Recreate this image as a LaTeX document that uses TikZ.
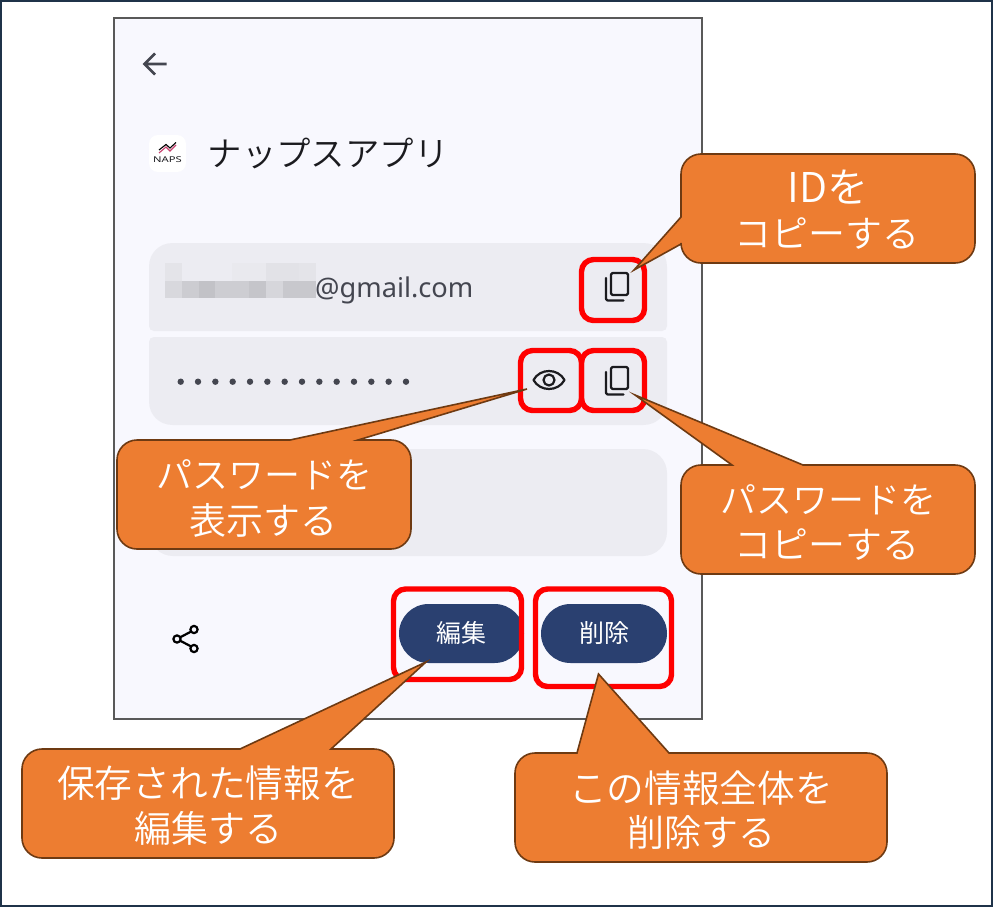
\documentclass[tikz,border=0pt]{standalone}
\usepackage{fontspec}
\newfontfamily\jp{Noto Sans CJK JP}
\newfontfamily\jpl{Noto Sans CJK JP DemiLight}
\newfontfamily\ui{Noto Sans}
\definecolor{panelbg}{HTML}{F8F8FE}
\definecolor{fieldbg}{HTML}{ECECF2}
\definecolor{panelline}{HTML}{595959}
\definecolor{frameline}{HTML}{1F3349}
\definecolor{callfill}{HTML}{ED7D31}
\definecolor{callline}{HTML}{6E3A12}
\definecolor{pillfill}{HTML}{2A4070}
\definecolor{uigrey}{HTML}{444650}
\definecolor{icondark}{HTML}{1B1B1F}
\definecolor{logopink}{HTML}{C8406E}
\tikzset{
  x=1pt,y=-1pt,
  callshape/.style={fill=callfill,draw=callline,line width=1.6pt,line join=miter},
  calltext/.style={text=white,font=\jpl\fontsize{37}{37}\selectfont,inner sep=0pt,anchor=center},
  calltextkana/.style={calltext,font=\jpl\fontsize{36}{36}\selectfont},
  calltextwide/.style={calltext,font=\jpl\fontsize{37.7}{37.7}\selectfont},
  calltextid/.style={calltext,font=\jpl\fontsize{41}{41}\selectfont},
  redbox/.style={draw=red,line width=5.4pt,rounded corners=12pt},
  pill/.style={fill=pillfill,rounded corners=29.5pt},
  pilltext/.style={text=white,font=\jp\fontsize{25}{25}\selectfont,inner sep=0pt},
  icon/.style={draw=icondark,line width=2.2pt,line cap=round,line join=round},
}
\newcommand{\topcall}[8]{%
  \draw[callshape] (#5,#2) -- (#7,#8) -- (#6,#2) -- ({#3-20},#2) .. controls ({#3-9},#2) and (#3,{#2+9}) .. (#3,{#2+20})
    -- (#3,{#4-20}) .. controls (#3,{#4-9}) and ({#3-9},#4) .. ({#3-20},#4)
    -- ({#1+20},#4) .. controls ({#1+9},#4) and (#1,{#4-9}) .. (#1,{#4-20})
    -- (#1,{#2+20}) .. controls (#1,{#2+9}) and ({#1+9},#2) .. ({#1+20},#2) -- cycle;}
\newcommand{\copyicon}[1]{%
  \begin{scope}[yshift=#1]
  \draw[icon,rounded corners=1.5pt] (611,273) rectangle (628,295);
  \draw[icon,rounded corners=1.5pt] (606,278) -- (606,300.5) -- (623.5,300.5);
  \end{scope}}
\begin{document}
\begin{tikzpicture}
\useasboundingbox (0,0) rectangle (993,907);
\fill[white] (0,0) rectangle (993,907);
\draw[frameline,line width=2pt] (1,1) rectangle (992,906);
% phone panel
\draw[fill=panelbg,draw=panelline,line width=1.6pt] (114,18) rectangle (702,719);
% fields
\fill[fieldbg] (149,326) -- (149,267) .. controls (149,253) and (159,243) .. (173,243) -- (643,243) .. controls (657,243) and (667,253) .. (667,267)
  -- (667,326) .. controls (667,329) and (665,331) .. (662,331) -- (154,331) .. controls (151,331) and (149,329) .. (149,326) -- cycle;
\fill[fieldbg] (149,342) .. controls (149,339) and (151,337) .. (154,337) -- (662,337) .. controls (665,337) and (667,339) .. (667,342)
  -- (667,401) .. controls (667,415) and (657,425) .. (643,425) -- (173,425) .. controls (159,425) and (149,415) .. (149,401) -- cycle;
\fill[fieldbg,rounded corners=24pt] (149,449) rectangle (667,556);
% back arrow
\draw[uigrey,line width=2.6pt,line join=miter] (166.5,64) -- (145,64) (155,53.5) -- (144.5,64) -- (155,74.5);
% app icon
\fill[white,rounded corners=9pt] (149,135) rectangle (186,172);
\draw[logopink,line width=1.1pt] (159,153) -- (166,147) -- (170,151) -- (176,145);
\draw[black,line width=1.1pt] (159,150) -- (166,144.5) -- (170,148) -- (176,142.5);
\node[name=naps,inner sep=0pt,xscale=1.4,font=\ui\fontsize{8}{8}\selectfont,text=icondark] at (167.5,160) {NAPS};
\node[name=title,inner sep=0pt,anchor=center,text=icondark,font=\jpl\fontsize{34.4}{34.4}\selectfont] at (328,153) {ナップスアプリ};
% blurred address
\foreach \i/\c in {0/E4E4E9,4/E9E9EE,5/E9E9EE,6/E2E2E7,7/E2E2E7,8/E4E4E9}{
  \definecolor{cc}{HTML}{\c}\fill[cc] ({165+\i*16.8},263) rectangle ({165+(\i+1)*16.8},281);}
\foreach \i/\c in {0/D8D8DD,1/CCCCD1,2/C2C2C7,3/CDCDD2,4/CDCDD2,5/C5C5CA,6/D6D6DB,7/C8C8CD,8/C8C8CD}{
  \definecolor{cc}{HTML}{\c}\fill[cc] ({165+\i*16.8},281) rectangle ({165+(\i+1)*16.8},298);}
\node[name=mail,inner sep=0pt,anchor=west,text=uigrey,font=\ui\fontsize{27.2}{27.2}\selectfont] at (315,290) {@gmail.com};
% password dots
\foreach \i in {0,...,13}{\fill[uigrey] ({180.7+\i*17.33},381.7) circle (3.2);}
% icons
\copyicon{0pt}
\copyicon{-94pt}
\draw[icon,line width=2.2pt] (533.5,380) .. controls (540,368) and (558,368) .. (564.5,380) .. controls (558,392) and (540,392) .. (533.5,380) -- cycle;
\draw[icon,line width=2.2pt] (549,380) circle (5.5);
% share icon
\draw[black,line width=2.2pt] (194,630) -- (177,639) -- (194,648);
\foreach \p in {(194,629.5),(177,639),(194,648.5)}{\draw[black,line width=2.2pt,fill=panelbg] \p circle (3.6);}
% pills
\fill[pill] (399,604) rectangle (524,663);
\fill[pill] (541,604) rectangle (667,663);
\node[pilltext,name=edit] at (461,633) {編集};
\node[pilltext,name=del] at (604,633) {削除};
% red boxes
\draw[redbox] (581.5,259.5) rectangle (644.5,320.5);
\draw[redbox] (520.5,350.5) rectangle (581.5,410.5);
\draw[redbox] (581.5,350.5) rectangle (644.5,410.5);
\draw[redbox] (393.5,589) rectangle (521.5,679.5);
\draw[redbox] (535.5,589) rectangle (671.5,686.5);
% callouts
\draw[callshape] (681,217) -- (634,270) -- (681,244) -- (681,243) .. controls (681,254) and (690,263) .. (701,263) -- (955,263)
  .. controls (966,263) and (975,254) .. (975,243) -- (975,174) .. controls (975,163) and (966,154) .. (955,154)
  -- (701,154) .. controls (690,154) and (681,163) .. (681,174) -- cycle;
\node[calltextid,name=c1a] at (828,187) {IDを};
\node[calltext,name=c1b] at (827,234) {コピーする};
\topcall{681}{465}{975}{574}{732}{803}{635}{395}
\node[calltextkana,name=c2a] at (828,500) {パスワードを};
\node[calltext,name=c2b] at (827,545) {コピーする};
\topcall{117}{440}{411}{549}{290}{358}{527}{389}
\node[calltextkana,name=c3a] at (264,475) {パスワードを};
\node[calltext,name=c3b] at (263,520) {表示する};
\topcall{22}{749}{394}{858}{240}{331}{426}{662}
\node[calltextwide,name=c4a] at (208,783) {保存された情報を};
\node[calltext,name=c4b] at (208,828) {編集する};
\topcall{515}{753}{887}{862}{577}{669}{598.5}{674}
\node[calltextwide,name=c5a] at (701,788) {この情報全体を};
\node[calltext,name=c5b] at (701,832) {削除する};
\end{tikzpicture}
\end{document}
